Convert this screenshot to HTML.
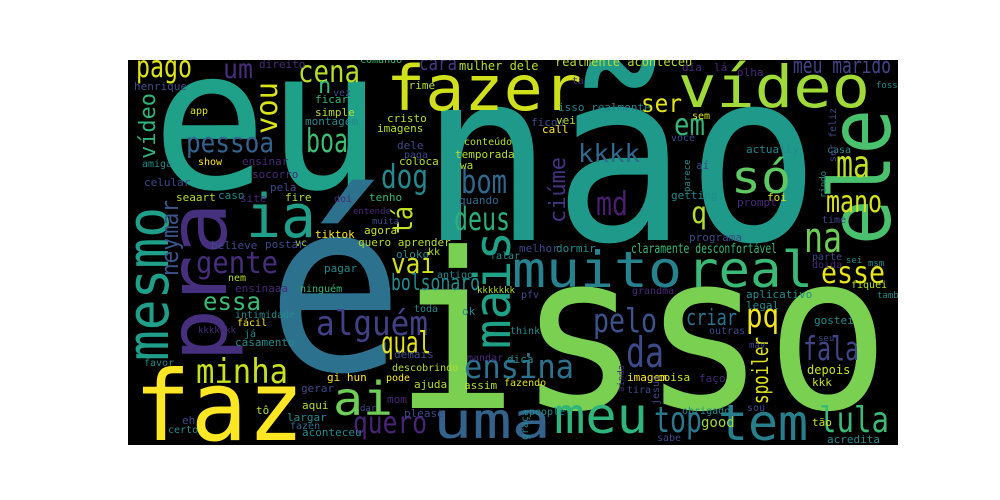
<!DOCTYPE html>
<html><head><meta charset="utf-8"><style>
html,body{margin:0;padding:0;background:#fff;}
svg{display:block;}
text{font-family:"DejaVu Sans Mono","Liberation Mono",monospace;}
</style></head><body>
<svg id="cloud" width="1000" height="500" viewBox="0 0 1000 500" xmlns="http://www.w3.org/2000/svg">
<defs><clipPath id="clip"><rect x="128" y="60" width="770" height="385"/></clipPath></defs>
<rect x="128" y="60" width="770" height="385" fill="#000"/>
<g id="words" clip-path="url(#clip)"></g>
</svg>
<script>
// [word, x, baselineY, fontSize, textLength(0=natural), color, rotated]
const words = [
["eu",152,188,195,230,"#1fa088",0],
["não",420,240,238,400,"#1f9a8a",0],
["isso",394,408,217,496,"#7ad151",0],
["é",266,370,238,138,"#2c728e",0],
["faz",134,440,97,170,"#fde725",0],
["pra",226,362,80,160,"#46307e",1],
["mesmo",168,361,58,154,"#1f9e89",1],
["ia",246,237,60,70,"#1f9e89",0],
["fazer",386,110,62,196,"#d0e11c",0],
["vídeo",678,107,58,192,"#a0da39",0],
["ele",890,245,86,136,"#4ac16d",1],
["só",731,193,45,60,"#5ec962",0],
["muito",512,287,50,170,"#26828e",0],
["real",687,287,50,126,"#3aba76",0],
["mais",510,349,50,118,"#1fa187",1],
["ai",333,415,46,60,"#6ece58",0],
["uma",433,438,50,118,"#33638d",0],
["meu",554,433,50,94,"#2fb47c",0],
["tem",718,440,50,90,"#277f8e",0],
["top",654,432,36,48,"#2a788e",0],
["lula",819,432,36,70,"#3aba76",0],
["minha",196,383,34,92,"#c8e020",0],
["alguém",316,335,34,112,"#424086",0],
["pelo",593,332,33,64,"#3b528b",0],
["ensina",464,378,33,110,"#2c728e",0],
["da",626,367,42,38,"#3e4989",0],
["qual",381,353,30,50,"#e2e418",0],
["quero",353,433,30,74,"#482475",0],
["gente",196,273,30,82,"#472d7b",0],
["vai",391,273,28,44,"#d2e21b",0],
["bolsonaro",391,290,22,89,"#238a8d",0],
["essa",203,310,25,58,"#3aba76",0],
["kkkk",578,162,25,62,"#31688e",0],
["md",596,215,33,32,"#481f70",0],
["ciúme",565,223,22,66,"#46327e",1],
["fala",803,360,33,56,"#414487",0],
["pq",746,327,33,33,"#f1e51d",0],
["criar",686,325,22,51,"#2c728e",0],
["spoiler",768,404,22,67,"#dde318",1],
["esse",821,283,30,64,"#e7e419",0],
["mano",826,212,30,56,"#d8e219",0],
["ma",836,177,37,34,"#c2df23",0],
["na",804,252,42,38,"#6ece58",0],
["em",674,135,30,31,"#35b779",0],
["q",691,223,30,16,"#b5de2b",0],
["ser",641,112,25,41,"#e5e419",0],
["meu marido",793,73,22,98,"#414487",0],
["pago",136,77,30,56,"#dde318",0],
["um",223,78,27,30,"#472d7b",0],
["cena",298,82,30,62,"#b8de29",0],
["cara",419,70,20,38,"#443983",0],
["pessoa",186,152,28,88,"#33638d",0],
["boa",306,152,33,42,"#3dbc74",0],
["dog",381,188,33,47,"#23898e",0],
["bom",461,193,33,46,"#31688e",0],
["deus",454,230,32,56,"#2ab07f",0],
["vou",277,134,30,52,"#d8e219",1],
["vídeo",155,159,22,66,"#2fb47c",1],
["tá",412,234,28,28,"#c0df25",1],
["neymar",178,276,24,76,"#3a548c",1],
["n",318,93,22,0,"#35b779",0],
["good",701,427,14,0,"#9fda3a",0],
["realmente aconteceu",555,66,12,0,"#b5de2b",0],
["isso realmente",558,111,11,0,"#26828e",0],
["claramente desconfortável",631,253,13,146,"#35b779",0],
["mulher dele",459,70,12,0,"#b5de2b",0],
["direito",259,68,11,0,"#472d7b",0],
["comando",360,63,10,0,"#35b779",0],
["henrique",134,90,11,0,"#3e4a89",0],
["app",190,114,10,0,"#dde318",0],
["ficar",315,103,11,0,"#35b779",0],
["vez",333,96,10,0,"#3e4989",0],
["crime",402,89,11,0,"#b5de2b",0],
["simple",315,116,11,0,"#b5de2b",0],
["montagem",305,125,11,0,"#238a8d",0],
["cristo",387,122,11,0,"#b5de2b",0],
["imagens",377,132,11,0,"#b5de2b",0],
["conteúdo",464,145,10,0,"#b5de2b",0],
["dele",397,149,11,0,"#3e4989",0],
["paga",404,158,10,0,"#3e4989",0],
["temporada",455,158,11,0,"#b5de2b",0],
["coloca",399,165,11,0,"#b5de2b",0],
["wa",460,169,11,0,"#b5de2b",0],
["show",198,165,10,0,"#fde725",0],
["ensinar",242,165,11,0,"#482878",0],
["amiga",142,167,10,0,"#238a8d",0],
["socorro",252,178,11,0,"#482878",0],
["celular",144,186,11,0,"#3e4989",0],
["pela",270,191,11,0,"#3e4989",0],
["seaart",176,201,11,0,"#b5de2b",0],
["caso",218,199,11,0,"#238a8d",0],
["site",240,202,11,0,"#482878",0],
["fire",285,201,11,0,"#b5de2b",0],
["doi",334,202,10,0,"#482878",0],
["tenho",369,201,11,0,"#35b779",0],
["quando",459,204,11,0,"#31688e",0],
["entende",353,214,9,0,"#482878",0],
["muita",372,224,9,0,"#3e4989",0],
["agora",364,234,11,0,"#c8e020",0],
["tiktok",315,238,11,0,"#fde725",0],
["vc",295,246,10,0,"#b5de2b",0],
["quero aprender",358,246,11,0,"#b5de2b",0],
["postar",265,248,11,0,"#3e4989",0],
["believe",211,249,11,0,"#3e4989",0],
["oloko",396,258,11,0,"#238a8d",0],
["kk",428,255,10,0,"#b5de2b",0],
["falar",490,259,10,0,"#238a8d",0],
["pagar",324,272,11,0,"#238a8d",0],
["nem",228,281,10,0,"#b5de2b",0],
["antigo",437,278,10,0,"#238a8d",0],
["ensinaaa",235,292,11,0,"#482878",0],
["ninguém",300,292,10,0,"#35b779",0],
["kkkkkkk",477,293,9,0,"#b5de2b",0],
["toda",414,312,10,0,"#238a8d",0],
["ok",462,315,11,0,"#238a8d",0],
["intimidade",235,318,10,0,"#238a8d",0],
["fácil",237,326,10,0,"#fde725",0],
["kkkkkkk",198,333,9,0,"#482878",0],
["já",244,337,10,0,"#238a8d",0],
["casamento",235,346,11,0,"#238a8d",0],
["demais",394,358,11,0,"#3e4989",0],
["mandar",467,361,10,0,"#482878",0],
["favor",144,366,10,0,"#238a8d",0],
["descobrindo",392,371,10,0,"#b5de2b",0],
["gi hun",327,381,11,0,"#fde725",0],
["pode",386,381,10,0,"#fde725",0],
["ajuda",414,388,11,0,"#b5de2b",0],
["assim",464,389,11,0,"#b5de2b",0],
["gerar",301,392,11,0,"#3e4989",0],
["mom",387,403,11,0,"#482878",0],
["aqui",302,409,11,0,"#b5de2b",0],
["tô",256,414,11,0,"#b5de2b",0],
["dar",360,411,9,0,"#3e4989",0],
["please",404,417,11,0,"#3e4989",0],
["eh",182,424,11,0,"#3e4989",0],
["largar",287,421,11,0,"#238a8d",0],
["fazen",290,429,10,0,"#31688e",0],
["certo",168,433,10,0,"#238a8d",0],
["aconteceu",302,436,11,0,"#238a8d",0],
["dia",682,71,11,0,"#482878",0],
["lá",714,71,11,0,"#482878",0],
["olha",737,76,11,0,"#482878",0],
["ta",572,84,10,0,"#482878",0],
["ficou",531,126,11,0,"#3e4989",0],
["vei",556,124,11,0,"#b5de2b",0],
["call",542,133,11,0,"#fde725",0],
["sem",692,119,10,0,"#dde318",0],
["você",671,141,10,0,"#3e4989",0],
["casa",827,153,10,0,"#238a8d",0],
["actually",746,153,11,0,"#238a8d",0],
["aí",696,169,11,0,"#3e4989",0],
["foi",767,201,11,0,"#dde318",0],
["prompt",737,206,11,0,"#482878",0],
["getting",671,199,11,0,"#238a8d",0],
["time",822,223,10,0,"#3e4989",0],
["programa",689,241,11,0,"#3e4989",0],
["melhor",519,252,11,0,"#3e4989",0],
["dormir",556,252,11,0,"#238a8d",0],
["fosse",876,88,9,0,"#238a8d",0],
["sei",846,263,9,0,"#238a8d",0],
["msm",868,266,9,0,"#238a8d",0],
["fiquei",851,288,10,0,"#b5de2b",0],
["também",877,298,9,0,"#238a8d",0],
["parte",812,260,10,0,"#3e4989",0],
["doida",812,268,10,0,"#482878",0],
["grandma",632,294,10,0,"#482878",0],
["aplicativo",746,298,11,0,"#238a8d",0],
["pfv",521,298,10,0,"#3e4989",0],
["legal",746,309,11,0,"#238a8d",0],
["think",510,334,10,0,"#238a8d",0],
["outras",709,334,10,0,"#3e4989",0],
["gostei",814,324,11,0,"#238a8d",0],
["seu",818,341,9,0,"#3e4989",0],
["may",749,348,9,0,"#3e4989",0],
["dica",507,363,11,0,"#238a8d",0],
["depois",807,374,12,0,"#c8e020",0],
["coisa",657,381,11,0,"#c8e020",0],
["imagem",627,381,11,0,"#fde725",0],
["faço",699,382,11,0,"#482878",0],
["kkk",812,386,11,0,"#c8e020",0],
["fazendo",504,386,10,0,"#dde318",0],
["tira",627,393,10,0,"#3e4989",0],
["people",529,415,10,0,"#238a8d",0],
["obrigado",682,414,10,0,"#238a8d",0],
["sou",747,411,10,0,"#3e4989",0],
["tão",812,426,11,0,"#c8e020",0],
["sabe",657,441,10,0,"#3e4989",0],
["acredita",827,443,11,0,"#238a8d",0],
["ser feliz",836,162,10,0,"#3e4989",1],
["parece",690,192,9,0,"#238a8d",1],
["rindo",826,198,9,0,"#238a8d",1],
["ainda",624,392,9,0,"#482878",1],
["jesus",659,405,10,0,"#3e4989",1],
["graça",528,440,10,0,"#238a8d",1]
];

const g = document.getElementById('words');
const NS = 'http://www.w3.org/2000/svg';
words.forEach(function(w){
  const t = document.createElementNS(NS,'text');
  
  
  t.setAttribute('font-size', w[3]);
  t.setAttribute('fill', w[5]);
  if (w[4] > 0) {
    t.setAttribute('textLength', w[4]);
    t.setAttribute('lengthAdjust', 'spacingAndGlyphs');
  }
  if (w[6]) {
    t.setAttribute('x', 0);
    t.setAttribute('y', 0);
    t.setAttribute('transform', 'translate(' + w[1] + ',' + w[2] + ') rotate(-90)');
  } else {
    t.setAttribute('x', w[1]);
    t.setAttribute('y', w[2]);
  }
  t.textContent = w[0];
  g.appendChild(t);
});
</script>
</body></html>
